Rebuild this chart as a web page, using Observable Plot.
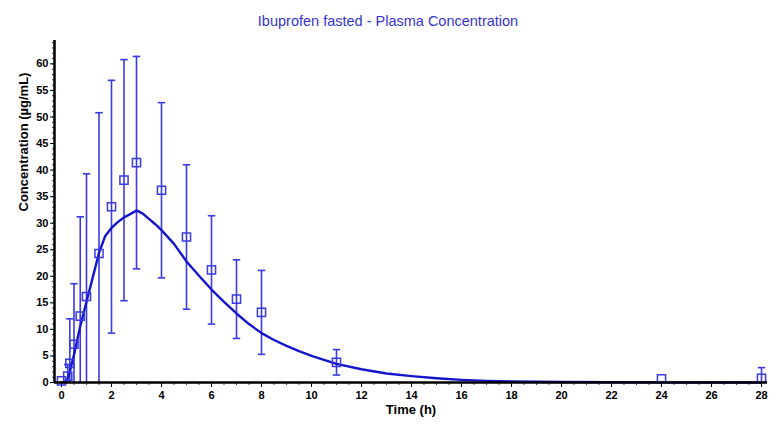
<!DOCTYPE html>
<html>
<head>
<meta charset="utf-8">
<script src="https://cdn.jsdelivr.net/npm/d3@7"></script>
<script src="https://cdn.jsdelivr.net/npm/@observablehq/plot@0.6"></script>
<style>
  html, body { margin: 0; padding: 0; background: #fff; }
  #title { height: 30px; width: 776px; text-align: center; font-family: Arial, "Liberation Sans", sans-serif; font-size: 14.5px; color: #3434d0; line-height: 30px; padding-top: 6px; box-sizing: border-box; overflow: visible; }
  #chart svg { display: block; }
</style>
</head>
<body>
<div id="title">Ibuprofen fasted - Plasma Concentration</div>
<div id="chart"></div>
<script>
// Observed mean and SD
const obsTime = [0, 0.25, 0.333, 0.5, 0.75, 1, 1.5, 2, 2.5, 3, 4, 5, 6, 7, 8, 11, 24, 28];
const obsMean = [0.3, 1.2, 3.6, 7.2, 12.5, 16.2, 24.3, 33.1, 38.1, 41.4, 36.2, 27.4, 21.2, 15.7, 13.2, 3.8, 0.7, 0.8];
const obsSD   = [0, 2.2, 8.4, 11.4, 18.7, 23.1, 26.5, 23.8, 22.7, 20.0, 16.5, 13.6, 10.2, 7.4, 7.9, 2.4, 0, 2.0];

// Simulated curve
const simTime = [0, 0.17, 0.25, 0.33, 0.5, 0.75, 1, 1.25, 1.5, 1.75, 2, 2.25, 2.5, 2.75, 3, 3.25, 3.5, 3.75, 4, 4.5, 5, 5.5, 6, 6.5, 7, 7.5, 8, 8.5, 9, 9.5, 10, 11, 12, 13, 14, 15, 16, 17, 18, 20, 24, 28];
const simConc = [0, 0.1, 0.8, 2.0, 5.2, 10.6, 15.2, 19.8, 24.4, 27.6, 29.1, 30.2, 31.1, 31.7, 32.4, 31.8, 30.8, 29.8, 28.7, 26.1, 22.8, 20.1, 17.5, 15.2, 13.0, 11.0, 9.3, 8.0, 6.9, 5.9, 5.0, 3.5, 2.5, 1.7, 1.2, 0.8, 0.5, 0.3, 0.2, 0.1, 0.03, 0.01];

const xTicks = d3.range(0, 29, 2);
const xMinor = d3.range(0, 28.5, 0.5);
const yTicks = d3.range(0, 61, 5);
const yMinor = d3.range(0, 65, 1);
const xDomain = [-0.28, 28.24];
const yDomain = [0, 64.4];

const obs = obsTime.map((t, i) => ({t, m: obsMean[i], sd: obsSD[i]}));
const bars = obs.filter(d => d.sd > 0).map(d => ({t: d.t, lo: Math.max(0, d.m - d.sd), hi: d.m + d.sd, loCap: d.m - d.sd >= 0}));
const caps = [];
bars.forEach(b => { caps.push({t: b.t, v: b.hi}); if (b.loCap) caps.push({t: b.t, v: b.lo}); });
const sim = simTime.map((t, i) => ({t, c: simConc[i]}));

const capSymbol = { draw(ctx, size) { const w = Math.sqrt(size) / 2; ctx.moveTo(-w, 0); ctx.lineTo(w, 0); } };

const chart = Plot.plot({
  width: 784,
  height: 408,
  marginLeft: 54,
  marginRight: 17,
  marginTop: 10,
  marginBottom: 56,
  style: { fontFamily: "Arial, 'Liberation Sans', sans-serif", fontWeight: "bold", fontSize: "11px", color: "#000" },
  x: { domain: xDomain },
  y: { domain: yDomain },
  marks: [
    Plot.axisX({ticks: xMinor, tickSize: 3, text: null, label: null, stroke: "#444"}),
    Plot.axisX({ticks: xTicks, tickSize: 5, tickPadding: 4, label: null, fontSize: 11, fontWeight: "bold", stroke: "#000"}),
    Plot.axisY({ticks: yMinor, tickSize: 2, text: null, label: null, stroke: "#444"}),
    Plot.axisY({ticks: yTicks, tickSize: 4, tickPadding: 2, label: null, fontSize: 11, fontWeight: "bold", stroke: "#000"}),
    Plot.ruleX(bars, {x: "t", y1: "lo", y2: "hi", stroke: "#3a3ae0", strokeWidth: 1.6}),
    Plot.dot(caps, {x: "t", y: "v", symbol: capSymbol, r: 4.2, stroke: "#3a3ae0", strokeWidth: 1.6}),
    Plot.line(sim, {x: "t", y: "c", stroke: "#1414cc", strokeWidth: 2.4}),
    Plot.dot(obs, {x: "t", y: "m", symbol: "square", r: 4.6, stroke: "#3a3ae0", strokeWidth: 1.5, fill: "none"}),
    Plot.ruleY([0], {stroke: "#000", strokeWidth: 2.5}),
    Plot.ruleX([xDomain[0]], {stroke: "#000", strokeWidth: 2.5}),
    Plot.text(["Concentration (µg/mL)"], {text: d => d, frameAnchor: "left", rotate: -90, dx: -31, fontSize: 13, fontWeight: "bold"}),
    Plot.text(["Time (h)"], {text: d => d, frameAnchor: "bottom", dy: 31, fontSize: 13, fontWeight: "bold"})
  ]
});
document.getElementById("chart").appendChild(chart);
</script>
</body>
</html>
